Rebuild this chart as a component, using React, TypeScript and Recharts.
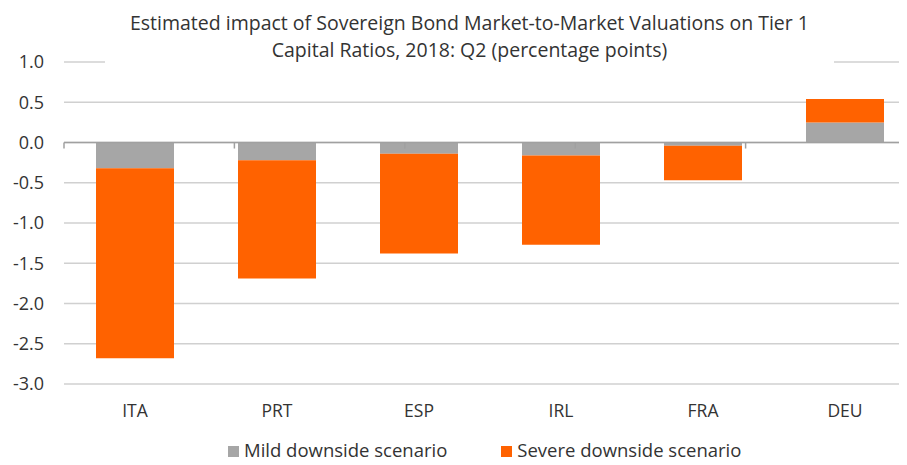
import React from 'react';
import { BarChart, Bar, XAxis, YAxis, CartesianGrid, ReferenceLine, Legend } from 'recharts';

// values (percentage points)
const countries = ['ITA', 'PRT', 'ESP', 'IRL', 'FRA', 'DEU'];
const mildDownside = [-0.32, -0.22, -0.14, -0.16, -0.04, 0.25];
const severeDownside = [-2.36, -1.47, -1.24, -1.11, -0.43, 0.29];
const yTicks = [-3, -2.5, -2, -1.5, -1, -0.5, 0, 0.5, 1];
// category edges, used for the small tick marks on the zero line
const boundaries = [0, 1, 2, 3, 4, 5, 6];

const titleLines = [
    'Estimated impact of Sovereign Bond Market-to-Market Valuations on Tier 1',
    'Capital Ratios, 2018: Q2 (percentage points)',
];

const MILD = '#a6a6a6';
const SEVERE = '#ff6200';
const TEXT = '#333333';

const data = countries.map((country, i) => ({
    country,
    mild: mildDownside[i],
    severe: severeDownside[i],
}));

const renderLegend = (props: any) => {
    const { payload = [] } = props;
    return (
        <div style={{ display: 'flex', paddingLeft: 228, height: 24, alignItems: 'center', position: 'relative', top: -3 }}>
            {payload.map((p: any, i: number) => (
                <div key={p.value} style={{ display: 'flex', alignItems: 'center', marginRight: i === 0 ? 54 : 0 }}>
                    <span
                        style={{
                            width: 11,
                            height: 11,
                            background: p.color,
                            marginRight: 5,
                            marginTop: 3,
                            display: 'inline-block',
                        }}
                    />
                    <span style={{ fontSize: 18.5, lineHeight: '24px', color: TEXT }}>{p.value}</span>
                </div>
            ))}
        </div>
    );
};

export default function App() {
    return (
        <div
            style={{
                position: 'relative',
                margin: -8,
                width: 907,
                height: 465,
                overflow: 'hidden',
                background: '#fff',
                fontFamily: "'Open Sans', sans-serif",
            }}
        >
            <BarChart
                width={925}
                height={465}
                data={data}
                margin={{ top: 62, right: 9, bottom: 0, left: 0 }}
                barSize={78}
            >
                <CartesianGrid vertical={false} stroke="#d0d0d0" strokeWidth={1.5} />
                <XAxis
                    dataKey="country"
                    axisLine={false}
                    tickLine={false}
                    tickSize={0}
                    tickMargin={21}
                    height={57}
                    tick={{ fontSize: 17.5, fill: TEXT }}
                />
                <XAxis xAxisId="edges" type="number" domain={[0, 6]} hide />
                <YAxis
                    domain={[-3, 1]}
                    ticks={yTicks}
                    interval={0}
                    width={64}
                    axisLine={false}
                    tickLine={false}
                    tickSize={0}
                    tickMargin={20}
                    tickFormatter={(v: number) => v.toFixed(1)}
                    tick={{ fontSize: 18, fill: TEXT }}
                />
                <ReferenceLine y={0} stroke="#a0a0a0" strokeWidth={1.5} />
                {boundaries.map((b) => (
                    <ReferenceLine
                        key={b}
                        xAxisId="edges"
                        segment={[{ x: b, y: 0 }, { x: b, y: -0.075 }]}
                        stroke="#a0a0a0"
                        strokeWidth={1.5}
                    />
                ))}
                <Bar dataKey="mild" name="Mild downside scenario" stackId="a" fill={MILD} isAnimationActive={false} />
                <Bar dataKey="severe" name="Severe downside scenario" stackId="a" fill={SEVERE} isAnimationActive={false} />
                <Legend verticalAlign="bottom" content={renderLegend} />
            </BarChart>
            <div
                style={{
                    position: 'absolute',
                    left: 105,
                    top: 0,
                    width: 729,
                    height: 66,
                    paddingTop: 10,
                    boxSizing: 'border-box',
                    background: '#fff',
                    textAlign: 'center',
                    fontSize: 19.5,
                    lineHeight: '26.5px',
                    color: TEXT,
                    whiteSpace: 'nowrap',
                }}
            >
                {titleLines.map((l) => (
                    <div key={l}>{l}</div>
                ))}
            </div>
        </div>
    );
}
